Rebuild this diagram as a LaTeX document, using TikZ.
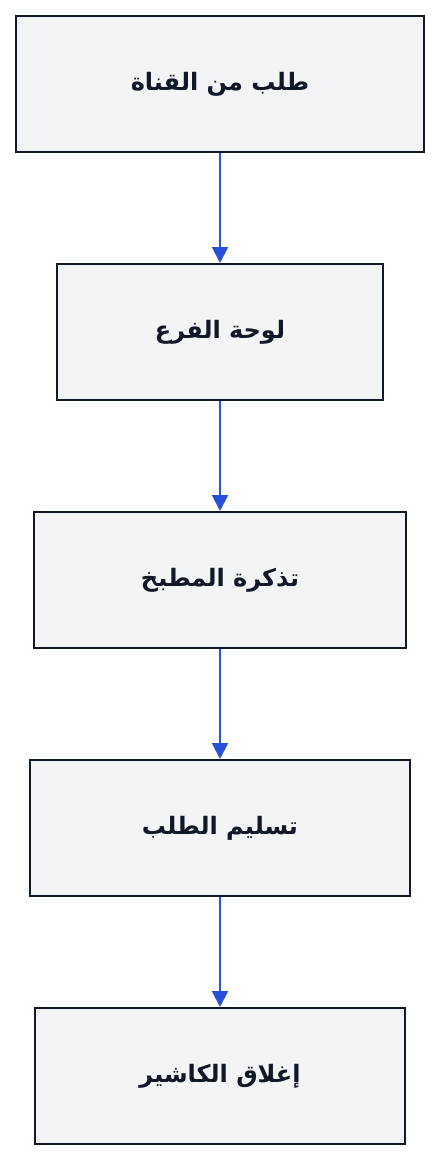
\documentclass[tikz,border=0pt]{standalone}
\usepackage{fontspec}
\usetikzlibrary{arrows.meta}
\TeXXeTstate=1
\newfontfamily\arabicfont[Script=Arabic]{DejaVu Sans}
\definecolor{boxfill}{HTML}{F3F4F6}
\definecolor{boxline}{HTML}{111827}
\definecolor{arrowblue}{HTML}{2A4FDB}
\begin{document}
\begin{tikzpicture}[x=1pt,y=-1pt,
  stagebox/.style={draw=boxline,fill=boxfill,line width=2pt,minimum height=136pt,inner sep=0pt,font=\arabicfont\bfseries\fontsize{24}{28}\selectfont,text=boxline},
  flow/.style={draw=arrowblue,line width=2pt,-{Triangle[width=16pt,length=16pt]}}]
\useasboundingbox (0,0) rectangle (440,1160);
\node[stagebox,minimum width=408pt] (a) at (220,84) {\beginR طلب من القناة\endR};
\node[stagebox,minimum width=326pt] (b) at (220,332) {\beginR لوحة الفرع\endR};
\node[stagebox,minimum width=372pt] (c) at (220,580) {\beginR تذكرة المطبخ\endR};
\node[stagebox,minimum width=380pt] (d) at (220,828) {\beginR تسليم الطلب\endR};
\node[stagebox,minimum width=370pt] (e) at (220,1076) {\beginR إغلاق الكاشير\endR};
\draw[flow] (a.south) -- (b.north);
\draw[flow] (b.south) -- (c.north);
\draw[flow] (c.south) -- (d.north);
\draw[flow] (d.south) -- (e.north);
\end{tikzpicture}
\end{document}
